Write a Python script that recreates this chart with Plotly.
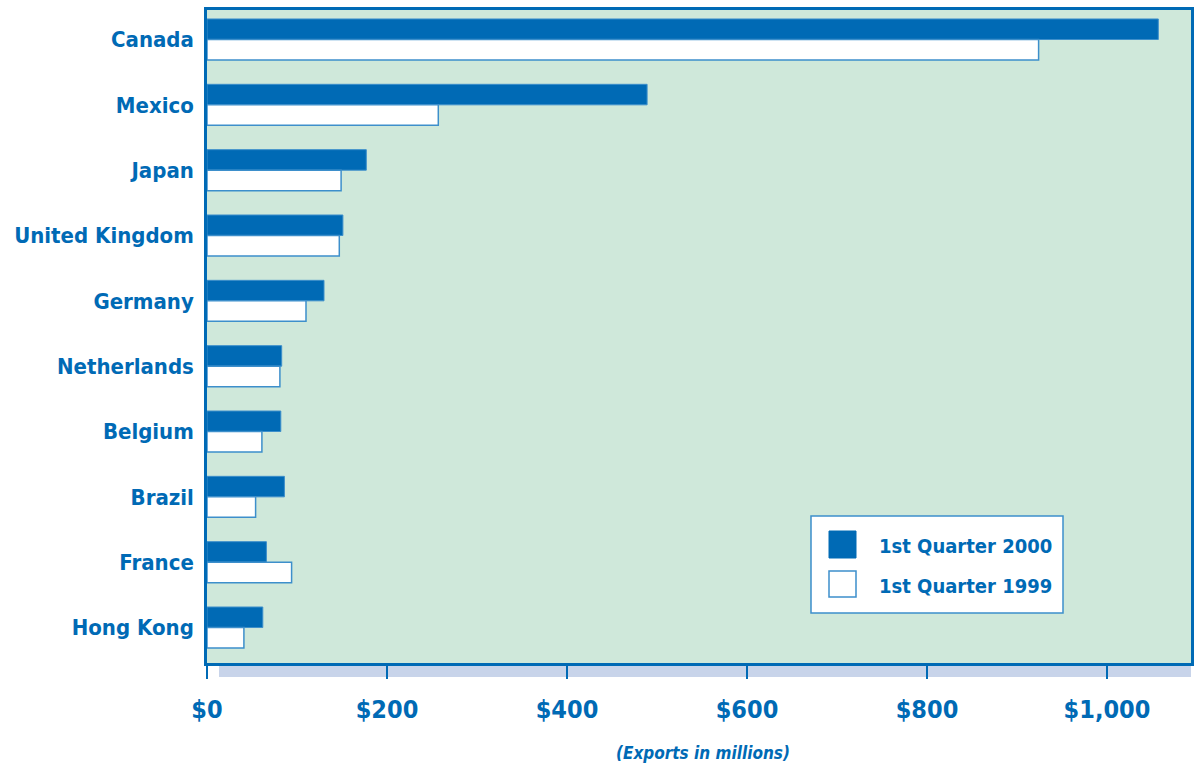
import plotly.graph_objects as go

countries = ["Canada", "Mexico", "Japan", "United Kingdom", "Germany",
             "Netherlands", "Belgium", "Brazil", "France", "Hong Kong"]
q2000 = [1057, 489, 177, 151, 130, 83, 82, 86, 66, 62]
q1999 = [924, 257, 149, 147, 110, 81, 61, 54, 94, 41]
name2000 = "1st Quarter 2000"
name1999 = "1st Quarter 1999"
tick_vals = [0, 200, 400, 600, 800, 1000]
tick_text = ["$0", "$200", "$400", "$600", "$800", "$1,000"]
x_title = "(Exports in millions)"

BLUE = "#006ab5"
LBLUE = "#3d8fcb"
BG = "#cfe8da"
FONT = "DejaVu Sans Condensed, Liberation Sans Narrow, sans-serif"

W, H = 1194, 767
# plot area in page pixels
PX0, PX1, PY0, PY1 = 207, 1191, 10, 663
L, R, T, B = PX0, W - PX1, PY0, H - PY1
pw = W - L - R
ph = H - T - B

def px2x(px):
    return (px - PX0) / pw

def py2y(py):
    return 1 - (py - PY0) / ph

fig = go.Figure()
fig.add_trace(go.Bar(y=countries, x=q2000, name=name2000, orientation="h",
                     marker=dict(color=BLUE, line=dict(color=LBLUE, width=1)),
                     showlegend=False))
fig.add_trace(go.Bar(y=countries, x=q1999, name=name1999, orientation="h",
                     marker=dict(color="white", line=dict(color=LBLUE, width=1.5)),
                     showlegend=False))

shapes = []
# band under the axis
shapes.append(dict(type="rect", xref="paper", yref="paper",
                   x0=px2x(219), x1=px2x(1191), y0=py2y(677), y1=py2y(665),
                   fillcolor="#c8d4ea", line=dict(width=0), layer="below"))
# legend box
shapes.append(dict(type="rect", xref="paper", yref="paper",
                   x0=px2x(811), x1=px2x(1063), y0=py2y(613), y1=py2y(516),
                   fillcolor="white", line=dict(color=LBLUE, width=1.5)))
shapes.append(dict(type="rect", xref="paper", yref="paper",
                   x0=px2x(829), x1=px2x(856), y0=py2y(558), y1=py2y(531),
                   fillcolor=BLUE, line=dict(color=BLUE, width=1)))
shapes.append(dict(type="rect", xref="paper", yref="paper",
                   x0=px2x(829), x1=px2x(856), y0=py2y(597), y1=py2y(571),
                   fillcolor="white", line=dict(color=LBLUE, width=1.5)))

annotations = [
    dict(text=name2000, xref="paper", yref="paper", x=px2x(877), y=py2y(546),
         xanchor="left", yanchor="middle", showarrow=False,
         font=dict(family=FONT, size=20, color=BLUE, weight="bold")),
    dict(text=name1999, xref="paper", yref="paper", x=px2x(877), y=py2y(586),
         xanchor="left", yanchor="middle", showarrow=False,
         font=dict(family=FONT, size=20, color=BLUE, weight="bold")),
    dict(text="<b><i>" + x_title + "</i></b>", xref="paper", yref="paper",
         x=px2x(703), y=py2y(753), xanchor="center", yanchor="middle",
         showarrow=False, font=dict(family=FONT, size=17, color=BLUE)),
]

fig.update_layout(
    width=W, height=H,
    margin=dict(l=L, r=R, t=T, b=B, pad=0),
    paper_bgcolor="white", plot_bgcolor=BG,
    barmode="group", bargap=0.372, bargroupgap=0,
    shapes=shapes, annotations=annotations,
    showlegend=False,
    xaxis=dict(range=[0, pw / 0.9], tickvals=tick_vals, ticktext=tick_text,
               automargin=False,
               showgrid=False, zeroline=False, ticks="outside", ticklen=13,
               tickcolor=BLUE, tickwidth=1.5,
               showline=True, linecolor=BLUE, linewidth=2.5, mirror=True,
               ticklabelstandoff=9,
               tickfont=dict(family=FONT, size=25, color=BLUE, weight="bold")),
    yaxis=dict(categoryorder="array", categoryarray=countries,
               automargin=False,
               range=[9.543, -0.4515], showgrid=False, zeroline=False,
               ticks="", showline=True, linecolor=BLUE, linewidth=2.5, mirror=True,
               ticklabelstandoff=6,
               tickfont=dict(family=FONT, size=22, color=BLUE, weight="bold")),
)

fig.write_html(
    "out.html",
    config={"displayModeBar": False},
    post_script="document.body.style.margin='0';document.body.style.overflow='hidden';",
)
